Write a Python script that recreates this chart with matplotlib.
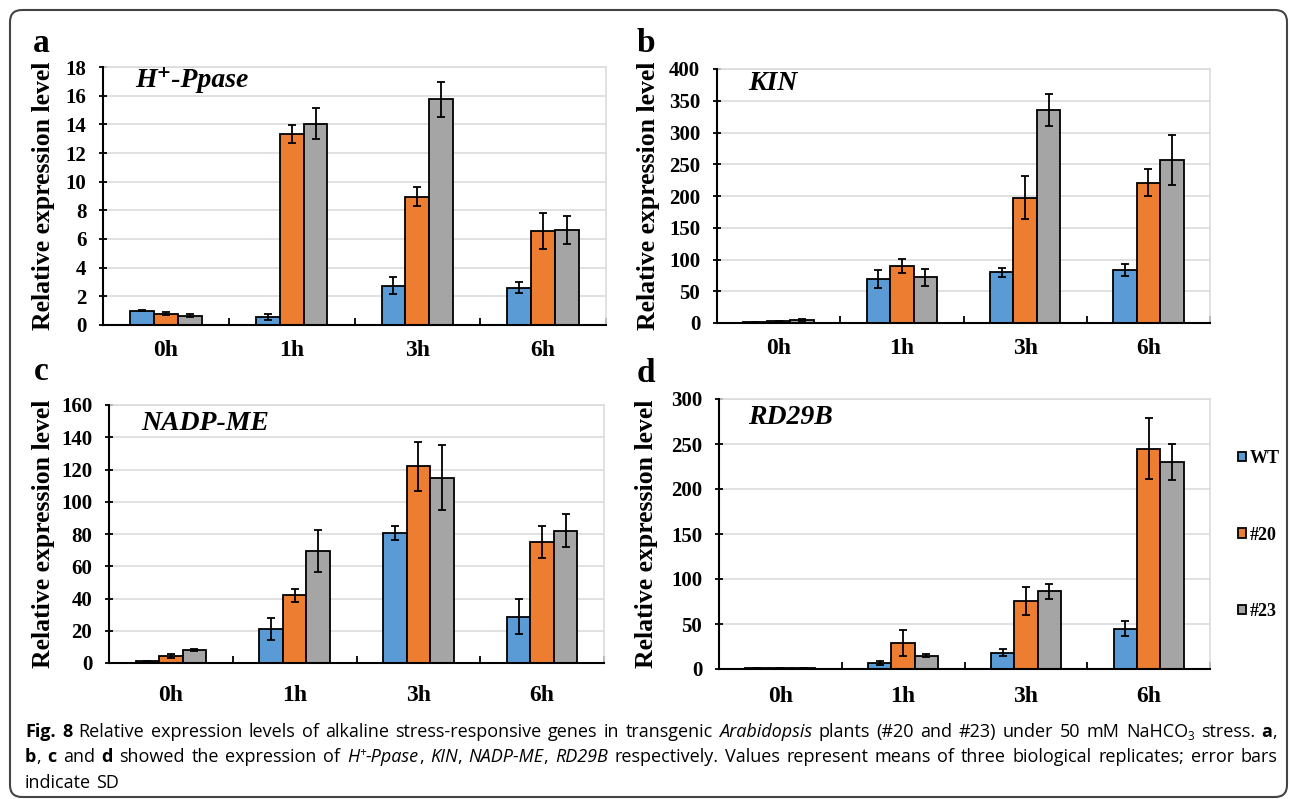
import matplotlib
matplotlib.use('Agg')
import numpy as np
import matplotlib.pyplot as plt
from matplotlib.patches import Patch, FancyBboxPatch
from matplotlib.transforms import IdentityTransform

W, H = 1290, 799
SERIF = ['Liberation Serif', 'DejaVu Serif']
SANS = ['Open Sans', 'DejaVu Sans']

plt.rcParams['font.family'] = SERIF
plt.rcParams['font.weight'] = 'bold'

categories = ['0h', '1h', '3h', '6h']
series_names = ['WT', '#20', '#23']
colors = ['#5B9BD5', '#ED7D31', '#A5A5A5']

# a: H+-Ppase
a_wt = [1.0, 0.55, 2.75, 2.6]
a_wt_sd = [0.05, 0.2, 0.57, 0.4]
a_20 = [0.8, 13.35, 8.95, 6.55]
a_20_sd = [0.1, 0.63, 0.65, 1.28]
a_23 = [0.65, 14.05, 15.75, 6.6]
a_23_sd = [0.1, 1.1, 1.22, 0.97]

# b: KIN
b_wt = [1, 69, 80, 83]
b_wt_sd = [0.5, 14, 7, 9.5]
b_20 = [2.5, 90, 197, 221]
b_20_sd = [1, 11, 34, 21]
b_23 = [5, 72, 335, 257]
b_23_sd = [1.5, 13, 25, 39]

# c: NADP-ME
c_wt = [1, 21, 80.5, 28.7]
c_wt_sd = [0.3, 6.6, 4.5, 11]
c_20 = [4.3, 42, 122, 75]
c_20_sd = [1.2, 4, 15.3, 10]
c_23 = [8, 69.3, 115, 82]
c_23_sd = [0.6, 13, 20, 10.3]

# d: RD29B
d_wt = [1, 6.5, 18, 45]
d_wt_sd = [0.3, 2, 3.8, 8.5]
d_20 = [1, 28.5, 75.5, 245]
d_20_sd = [0.5, 14.5, 16, 33.5]
d_23 = [0.6, 15, 86.5, 230.5]
d_23_sd = [0.3, 2, 8.5, 20]

fig = plt.figure(figsize=(W / 100, H / 100), dpi=100)


def fx(x):
    return x / W


def fy(y):
    return 1 - y / H


def panel(box, vals, sds, ymax, ystep, gene, gene_xy, letter, letter_xy,
          ylab_x, xpad):
    l, t, r, b = box
    ax = fig.add_axes([fx(l), fy(b), (r - l) / W, (b - t) / H])
    x = np.arange(len(categories))
    w = 0.19
    for i in range(3):
        ax.bar(x + (i - 1) * w, vals[i], w, color=colors[i],
               edgecolor='black', linewidth=1.3, zorder=3)
        ax.errorbar(x + (i - 1) * w, vals[i], yerr=sds[i], fmt='none',
                    ecolor='black', elinewidth=1.3, capsize=3, capthick=1.3,
                    zorder=4)
    ax.set_xlim(-0.5, 3.5)
    ax.set_ylim(0, ymax)
    ax.set_yticks(np.arange(0, ymax + ystep / 2, ystep))
    ax.set_xticks(x)
    ax.set_xticklabels(categories)
    ax.set_xticks([0.5, 1.5, 2.5, 3.5], minor=True)
    ax.grid(axis='y', color='#dcdcdc', lw=1.2, zorder=0)
    for s in ['top', 'right']:
        ax.spines[s].set_color('#dcdcdc')
        ax.spines[s].set_linewidth(1.2)
    for s in ['left', 'bottom']:
        ax.spines[s].set_linewidth(1.5)
        ax.spines[s].set_zorder(5)
    ax.tick_params(axis='x', which='major', length=0, labelsize=17, pad=xpad)
    ax.tick_params(axis='x', which='minor', direction='in', length=5,
                   width=1.3)
    ax.tick_params(axis='y', direction='inout', length=6, width=1.3,
                   labelsize=15, pad=9)
    ax.set_ylabel('Relative expression level', fontsize=18.5,
                  fontweight='bold')
    ax.yaxis.set_label_coords((ylab_x - l) / (r - l), 0.5)
    fig.text(fx(gene_xy[0]), fy(gene_xy[1]), gene, fontsize=20,
             fontweight='bold', fontstyle='italic', ha='left', va='center')
    fig.text(fx(letter_xy[0]), fy(letter_xy[1]), letter, fontsize=24,
             fontweight='bold', ha='center', va='center')
    return ax


panel((103, 67, 606, 325), [a_wt, a_20, a_23], [a_wt_sd, a_20_sd, a_23_sd],
      18, 2, 'H\u207a-Ppase', (135, 80), 'a', (41, 44), 55, 11)
panel((717, 69, 1210, 323), [b_wt, b_20, b_23], [b_wt_sd, b_20_sd, b_23_sd],
      400, 50, 'KIN', (748, 84), 'b', (646, 44), 660, 11)
panel((109, 405, 604, 663), [c_wt, c_20, c_23], [c_wt_sd, c_20_sd, c_23_sd],
      160, 20, 'NADP-ME', (141, 423), 'c', (41, 372), 55, 16)
panel((719, 399, 1210, 669), [d_wt, d_20, d_23], [d_wt_sd, d_20_sd, d_23_sd],
      300, 50, 'RD29B', (748, 417), 'd', (646, 374), 658, 12)

handles = [Patch(facecolor=c, edgecolor='black', linewidth=1.3) for c in colors]
fig.legend(handles, series_names, loc='center left',
           bbox_to_anchor=(fx(1222), fy(535)), frameon=False,
           handlelength=0.42, handleheight=0.42, handletextpad=0.2,
           labelspacing=3.3, prop=dict(family=SERIF, weight='bold', size=13))

# rounded frame around the figure
frame = FancyBboxPatch((10, 2), 1277, 787,
                       boxstyle='round,pad=0,rounding_size=12',
                       transform=IdentityTransform(), fill=False,
                       edgecolor='#444444', linewidth=1.5)
fig.add_artist(frame)

# caption, laid out word by word and justified
cap_size = 13
line1 = ([[('Fig.', 'b')], [('8', 'b')]]
         + 'Relative expression levels of alkaline stress-responsive genes in transgenic'.split()
         + [[('Arabidopsis', 'i')]]
         + 'plants (#20 and #23) under 50 mM'.split()
         + [[('NaHCO', 'n'), ('3', 'sub')], 'stress.', [('a', 'b'), (',', 'n')]])
line2 = ([[('b', 'b'), (',', 'n')], [('c', 'b')], 'and', [('d', 'b')]]
         + 'showed the expression of'.split()
         + [[('H', 'i'), ('+', 'isup'), ('-Ppase', 'i'), (',', 'n')],
            [('KIN', 'i'), (',', 'n')], [('NADP-ME', 'i'), (',', 'n')],
            [('RD29B', 'i')]]
         + 'respectively. Values represent means of three biological replicates; error bars'.split())
line3 = 'indicate SD'.split()

renderer = fig.canvas.get_renderer()


def make_piece(txt, style):
    kw = dict(family=SANS, fontsize=cap_size, fontweight='normal',
              fontstyle='normal', va='baseline', ha='left')
    dy = 0
    if style == 'b':
        kw['fontweight'] = 'bold'
    elif style == 'i':
        kw['fontstyle'] = 'italic'
    elif style == 'sub':
        kw['fontsize'] = cap_size * 0.65
        dy = 3
    elif style == 'isup':
        kw['fontsize'] = cap_size * 0.65
        kw['fontstyle'] = 'italic'
        dy = -6
    t = fig.text(0, 0, txt, **kw)
    return t, dy


def caption_line(words, y, justify, x0=25, x1=1277):
    built = []
    for word in words:
        if isinstance(word, str):
            word = [(word, 'n')]
        parts = []
        wsum = 0
        for txt, style in word:
            t, dy = make_piece(txt, style)
            pw = t.get_window_extent(renderer).width
            parts.append((t, dy, wsum))
            wsum += pw
        built.append((parts, wsum))
    total = sum(wd for _, wd in built)
    if justify:
        gap = (x1 - x0 - total) / (len(built) - 1)
    else:
        gap = cap_size * 0.27 * 100 / 72
    x = x0
    for parts, wd in built:
        for t, dy, off in parts:
            t.set_position((fx(x + off), fy(y + dy)))
        x += wd + gap


caption_line(line1, 737, True)
caption_line(line2, 762, True)
caption_line(line3, 788, False)

fig.savefig('out.png', dpi=100)
